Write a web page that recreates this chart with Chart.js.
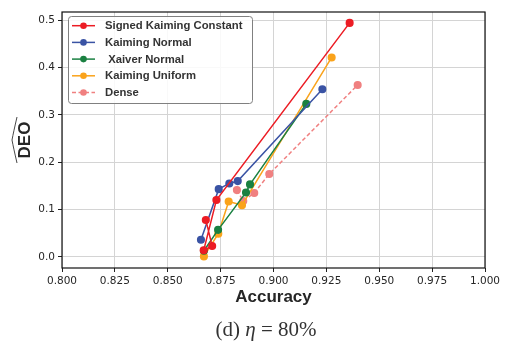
<!DOCTYPE html>
<html>
<head>
<meta charset="utf-8">
<script src="https://cdn.jsdelivr.net/npm/chart.js@4"></script>
<style>
  body { margin: 0; background: #fff; }
  #wrap { position: relative; width: 511px; height: 345px; }
  #caption {
    position: absolute; left: 0; width: 532px; top: 317px;
    text-align: center; font-family: "Liberation Serif", "DejaVu Serif", serif;
    font-size: 21px; line-height: 24px; color: #333; white-space: pre;
  }
</style>
</head>
<body>
<div id="wrap">
  <canvas id="chart" width="511" height="345"></canvas>
  <div id="caption">(d) <i>η</i> = 80%</div>
</div>
<script>
// values
let skcAcc = [0.868, 0.871, 0.867, 0.873, 0.936];
let skcDeo = [0.078, 0.023, 0.014, 0.120, 0.494];
let knAcc = [0.8657, 0.8741, 0.8791, 0.8831, 0.9231];
let knDeo = [0.036, 0.143, 0.155, 0.160, 0.354];
let xnAcc = [0.8671, 0.8738, 0.8870, 0.8889, 0.9155];
let xnDeo = [0.013, 0.057, 0.136, 0.153, 0.323];
let kuAcc = [0.8671, 0.8739, 0.8788, 0.8851, 0.9275];
let kuDeo = [0.001, 0.049, 0.117, 0.109, 0.421];
let dnAcc = [0.8827, 0.8857, 0.8909, 0.8980, 0.9398];
let dnDeo = [0.141, 0.118, 0.135, 0.175, 0.363];

let seriesNames = ["Signed Kaiming Constant", "Kaiming Normal", " Xaiver Normal", "Kaiming Uniform", "Dense"];
let xTicks = [0.8, 0.825, 0.85, 0.875, 0.9, 0.925, 0.95, 0.975, 1.0];
let yTicks = [0.0, 0.1, 0.2, 0.3, 0.4, 0.5];

function pts(xs, ys) {
  let out = [];
  for (let i = 0; i < xs.length; i++) out.push({ x: xs[i], y: ys[i] });
  return out;
}

function mkSet(name, xs, ys, color, dashed) {
  return {
    label: name,
    data: pts(xs, ys),
    borderColor: color,
    backgroundColor: color,
    pointBackgroundColor: color,
    pointBorderColor: color,
    borderWidth: 1.5,
    pointRadius: 3.3,
    pointHoverRadius: 3.3,
    borderDash: dashed ? [4, 2.5] : [],
    showLine: true,
    tension: 0,
  };
}

const txt = "#262626";

// legend drawn inside the plot, like matplotlib
const boxLegend = {
  id: "boxLegend",
  afterDatasetsDraw(chart) {
    let c = chart.ctx;
    let x0 = 68.5, y0 = 16.5, w = 184, h = 87;
    c.save();
    c.fillStyle = "rgba(255,255,255,0.85)";
    c.strokeStyle = "#808080";
    c.lineWidth = 1;
    c.beginPath();
    c.roundRect(x0, y0, w, h, 3);
    c.fill();
    c.stroke();
    c.font = "bold 11.3px 'Liberation Sans'";
    c.textBaseline = "middle";
    chart.data.datasets.forEach((ds, i) => {
      let y = 25.7 + i * 16.7;
      c.strokeStyle = ds.borderColor;
      c.lineWidth = 1.5;
      c.setLineDash(ds.borderDash);
      c.beginPath();
      c.moveTo(72, y);
      c.lineTo(95, y);
      c.stroke();
      c.setLineDash([]);
      c.fillStyle = ds.borderColor;
      c.beginPath();
      c.arc(83.5, y, 3.3, 0, Math.PI * 2);
      c.fill();
      c.fillStyle = "#333";
      c.fillText(ds.label, 105, y + 0.5);
    });
    c.restore();
  },
};

// black frame on all four sides + hat over DEO
const frame = {
  id: "frame",
  afterDraw(chart) {
    let a = chart.chartArea, c = chart.ctx;
    c.save();
    c.strokeStyle = "#111";
    c.lineWidth = 1.2;
    c.strokeRect(a.left, a.top, a.right - a.left, a.bottom - a.top);
    // wide hat
    c.strokeStyle = "#333";
    c.lineWidth = 0.9;
    c.beginPath();
    let hx = 12.5, cy = (a.top + a.bottom) / 2;
    c.moveTo(hx + 4.5, cy + 23);
    c.quadraticCurveTo(hx + 1, cy + 8, hx - 0.5, cy);
    c.quadraticCurveTo(hx + 1, cy - 8, hx + 4.5, cy - 23);
    c.stroke();
    c.restore();
  },
};

new Chart(document.getElementById("chart"), {
  type: "scatter",
  data: {
    datasets: [
      mkSet(seriesNames[0], skcAcc, skcDeo, "#ec1c24", false),
      mkSet(seriesNames[1], knAcc, knDeo, "#3a53a4", false),
      mkSet(seriesNames[2], xnAcc, xnDeo, "#1a8041", false),
      mkSet(seriesNames[3], kuAcc, kuDeo, "#faa31b", false),
      mkSet(seriesNames[4], dnAcc, dnDeo, "#f08080", true),
    ],
  },
  options: {
    responsive: false,
    animation: false,
    layout: { padding: { top: 12, right: 26, bottom: 37, left: 0 } },
    plugins: {
      legend: { display: false },
      tooltip: { enabled: false },
    },
    scales: {
      x: {
        type: "linear",
        min: 0.8,
        max: 1.0,
        afterBuildTicks(s) { s.ticks = xTicks.map(v => ({ value: v })); },
        afterFit(s) { s.height = 40; },
        grid: { color: "#d4d4d4", lineWidth: 1, tickLength: 4, tickColor: "#222", drawTicks: true },
        border: { display: false },
        ticks: {
          color: txt,
          font: { family: "DejaVu Sans", size: 10.5 },
          padding: 3,
          maxRotation: 0,
          autoSkip: false,
          callback: v => v.toFixed(3),
        },
        title: {
          display: true,
          text: "Accuracy",
          color: txt,
          font: { family: "Liberation Sans", size: 17, weight: "bold" },
          padding: { top: 0, bottom: 0 },
        },
      },
      y: {
        type: "linear",
        min: -0.0235,
        max: 0.517,
        afterBuildTicks(s) { s.ticks = yTicks.map(v => ({ value: v })); },
        afterFit(s) { s.width = 62; },
        grid: { color: "#d4d4d4", lineWidth: 1, tickLength: 4, tickColor: "#222", drawTicks: true },
        border: { display: false },
        ticks: {
          color: txt,
          font: { family: "DejaVu Sans", size: 10.5 },
          padding: 3,
          autoSkip: false,
          callback: v => v.toFixed(1),
        },
        title: {
          display: true,
          text: "DEO",
          color: txt,
          font: { family: "Liberation Sans", size: 17, weight: "bold" },
          padding: { top: 15, bottom: 0 },
        },
      },
    },
  },
  plugins: [boxLegend, frame],
});
</script>
</body>
</html>
